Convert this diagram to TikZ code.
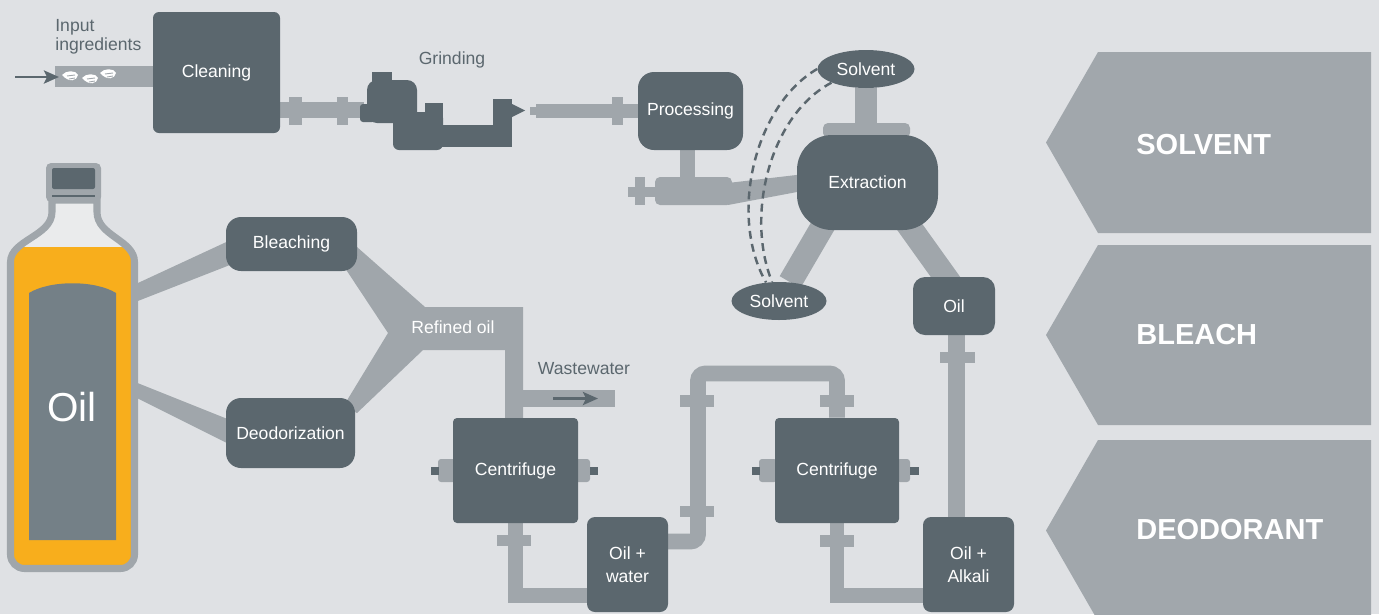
\documentclass[tikz,border=0pt]{standalone}
\usepackage{fontspec}
\setmainfont{Liberation Sans}
\usetikzlibrary{shapes.geometric, arrows.meta, positioning, calc}
\definecolor{paper}{RGB}{223,225,228}
\definecolor{steel}{RGB}{91,103,110}
\definecolor{pipegrey}{RGB}{160,166,171}
\definecolor{chevgrey}{RGB}{161,167,172}
\definecolor{amber}{RGB}{248,174,28}
\definecolor{slate}{RGB}{116,128,135}
\definecolor{neck}{RGB}{234,235,236}
\pgfdeclarelayer{back}
\pgfdeclarelayer{pipes}
\pgfsetlayers{back,pipes,main}

\begin{document}
\begin{tikzpicture}[x=0.2mm, y=-0.2mm,
  box/.style={rectangle, rounded corners=1.2mm, fill=steel, text=white, inner sep=0pt, align=center, font=\fontsize{10}{13}\selectfont},
  tank/.style={ellipse, fill=steel, text=white, inner sep=0pt, font=\fontsize{10}{12}\selectfont},
  note/.style={text=steel, inner sep=0pt, font=\fontsize{10}{10.8}\selectfont},
  tube/.style={draw=pipegrey, line width=9pt},
  flange/.style={fill=pipegrey},
  seed/.style={fill=white},
  chev/.style={fill=chevgrey},
  chevtext/.style={text=white, anchor=west, inner sep=0pt, font=\bfseries\fontsize{16.5}{18}\selectfont},
  arrow/.style={-{Stealth[length=3mm, width=2.6mm, inset=0.6mm]}, draw=steel, line width=1.6pt},
  dashline/.style={draw=steel, line width=1.4pt, dash pattern=on 4.5pt off 3pt}
]
  \useasboundingbox (0,0) rectangle (1379,614);
  \begin{pgfonlayer}{back}
    \fill[paper] (0,0) rectangle (1379,614);
  \end{pgfonlayer}

  \node[box, minimum width=25.4mm, minimum height=24.2mm] (cleaning) at (216.5,72.5) {Cleaning};
  \node[box, rounded corners=3.2mm, minimum width=21mm, minimum height=15.6mm] (processing) at (690.5,111) {Processing};
  \node[box, rounded corners=7mm, minimum width=28.2mm, minimum height=19mm] (extraction) at (867.5,182.5) {Extraction};
  \node[tank, minimum width=19.4mm, minimum height=7.6mm] (solventtop) at (866,69) {Solvent};
  \node[tank, minimum width=19mm, minimum height=7.6mm] (solventbot) at (779,301) {Solvent};
  \node[box, rounded corners=2.4mm, minimum width=16.4mm, minimum height=11.6mm] (oil) at (954,306) {Oil};
  \node[box, rounded corners=3mm, minimum width=26.2mm, minimum height=10.8mm] (bleaching) at (291.5,244) {Bleaching};
  \node[box, rounded corners=3mm, minimum width=25.8mm, minimum height=14mm] (deodor) at (290.5,433) {Deodorization};
  \node[box, rounded corners=0.8mm, minimum width=25mm, minimum height=21mm] (centrifugeA) at (515.5,470.5) {Centrifuge};
  \node[box, rounded corners=0.8mm, minimum width=24.8mm, minimum height=21mm] (centrifugeB) at (837,470.5) {Centrifuge};
  \node[box, rounded corners=1.6mm, minimum width=16.2mm, minimum height=19mm] (oilwater) at (627.5,564.5) {Oil +\\water};
  \node[box, rounded corners=1.6mm, minimum width=18.2mm, minimum height=19mm] (oilalkali) at (968.5,564.5) {Oil +\\Alkali};

  \node[note, align=left, anchor=north west] (inputlbl) at (55,19) {Input\\ingredients};
  \node[note] (grindlbl) at (452,60) {Grinding};
  \node[note] (wastelbl) at (584,369) {Wastewater};
  \node[text=white, inner sep=0pt, font=\fontsize{10}{12}\selectfont] (refined) at (453,327) {Refined oil};

  \coordinate (feed) at (15,77);
  \coordinate (inlet) at (59,77);
  \coordinate (inpipe) at (55,76.5);
  \coordinate (grindin) at (364,110);
  \coordinate (grindout) at (530,111);
  \coordinate (exsw) at (831,212);
  \coordinate (exse) at (899,212);
  \coordinate (oilin) at (962,300);
  \coordinate (wastein) at (553,398.5);
  \coordinate (wasteout) at (598,398.5);
  \coordinate (wasteend) at (615,398.5);
  \coordinate (cAbend) at (515.5,595.5);
  \coordinate (cBbend) at (837,595.5);
  \coordinate (owout) at (660,541.5);
  \coordinate (loopL) at (698,373.5);
  \coordinate (oaup) at (956.5,520);

  \begin{pgfonlayer}{pipes}
    \draw[tube, line width=11.9pt] (inpipe) -- (inpipe -| cleaning.west);
    \fill[seed, shift={(70,77)}] (-8,-2) .. controls (-4,-7) and (6,-7) .. (8,-2) .. controls (7,4) and (-1,6) .. cycle;
    \fill[seed, shift={(90,80)}] (-8,-2) .. controls (-4,-7) and (6,-7) .. (8,-2) .. controls (7,4) and (-1,6) .. cycle;
    \fill[seed, shift={(108,75)}] (-8,-2) .. controls (-4,-7) and (6,-7) .. (8,-2) .. controls (7,4) and (-1,6) .. cycle;
    \draw[pipegrey, line width=0.5pt, shift={(70,77)}] (-3,-1) -- (5,-2) (-1,2) -- (5,1);
    \draw[pipegrey, line width=0.5pt, shift={(90,80)}] (-3,-1) -- (5,-2) (-1,2) -- (5,1);
    \draw[pipegrey, line width=0.5pt, shift={(108,75)}] (-3,-1) -- (5,-2) (-1,2) -- (5,1);

    \draw[tube] (grindin -| cleaning.east) -- (grindin);
    \fill[flange] (289,97) rectangle (302,125);
    \fill[flange] (337,97) rectangle (348,125);
    \draw[tube, line width=5pt] (grindout) -- ++(8,0);
    \draw[tube, line width=8.5pt] ($(grindout)+(6,0)$) -- (processing.west);
    \fill[flange] (612,97) rectangle (623,125);

    \draw[tube, line width=8.5pt] (processing.south) ++(-3,0) -- ++(0,30);
    \fill[pipegrey, rounded corners=1mm] (655,177) rectangle (732,205);
    \fill[flange] (635,177) rectangle (645,205);
    \fill[flange] (628,187) rectangle (655,197);
    \fill[pipegrey] (728,183) -- (805,174) -- (805,190.5) -- (728,205) -- cycle;

    \draw[tube, line width=13pt] (solventtop) -- (solventtop |- extraction.north);
    \fill[pipegrey, rounded corners=1mm] (823,123) rectangle (910,138);
    \draw[tube, line width=13.6pt] (exsw) -- (solventbot);
    \draw[tube, line width=13.6pt] (exse) -- (oilin);

    \draw[dashline] (solventtop.west) .. controls (755,105) and (728,215) .. (solventbot.125);
    \draw[dashline] (solventtop.south west) .. controls (770,115) and (745,215) .. (solventbot.110);

    \fill[pipegrey] (125,289) -- (235,238) -- (235,263) -- (125,306) -- cycle;
    \fill[pipegrey] (125,378) -- (235,422) -- (235,447) -- (125,392) -- cycle;
    \fill[pipegrey] (357,247) -- (425,307) -- (523,307) -- (523,418) -- (505,418) -- (505,350) -- (423,350) -- (357,413) -- (343,407) -- (388,333) -- (343,265) -- cycle;
    \draw[tube, line width=9.6pt] (514,398.5) -- (wasteend);

    \draw[tube, line width=8.5pt] (centrifugeA.south) -- (cAbend) -- (cAbend -| oilwater.center);
    \fill[flange] (497,535) rectangle (531,546);
    \draw[tube, rounded corners=1.5mm] (owout) -| (loopL) -| (centrifugeB.north);
    \fill[flange] (680,395) rectangle (714,407);
    \fill[flange] (680,506) rectangle (714,517);
    \fill[flange] (820,395) rectangle (854,407);
    \draw[tube, line width=8.5pt] (centrifugeB.south) -- (cBbend) -- (cBbend -| oilalkali.center);
    \fill[flange] (820,535) rectangle (854,547);
    \draw[tube, line width=9.6pt] (oaup) -- (oaup |- oil.center);
    \fill[flange] (940,352) rectangle (975,363);

    \fill[pipegrey, rounded corners=0.6mm] (438,459) rectangle (456,482);
    \fill[steel] (431,467) rectangle (439,475);
    \fill[pipegrey, rounded corners=0.6mm] (575,459) rectangle (590,482);
    \fill[steel] (590,467) rectangle (598,475);
    \fill[pipegrey, rounded corners=0.6mm] (759,459) rectangle (777,482);
    \fill[steel] (752,467) rectangle (760,475);
    \fill[pipegrey, rounded corners=0.6mm] (897,459) rectangle (910,482);
    \fill[steel] (910,467) rectangle (919,475);
  \end{pgfonlayer}

  \draw[arrow] (feed) -- (inlet);
  \draw[arrow] (wastein) -- (wasteout);

  \fill[steel] (372,72) rectangle (392,82);
  \fill[steel, rounded corners=2mm] (367,80) rectangle (417,123);
  \fill[steel, rounded corners=0.6mm] (360,104) rectangle (375,122);
  \fill[steel, rounded corners=1.2mm] (393,112) rectangle (443,150);
  \fill[steel] (425,103) rectangle (443,125);
  \fill[steel] (440,125) rectangle (512,147);
  \fill[steel] (493,99) rectangle (512,147);
  \fill[steel] (512,104) -- (525,110.5) -- (512,117) -- cycle;

  \draw[pipegrey, line width=4pt, fill=neck, path picture={\fill[amber] (0,247) rectangle (150,580);}]
    (10.5,300) -- (10.5,262) .. controls (10.5,240) and (52,236) .. (52,212) -- (52,200) -- (97,200) -- (97,212) .. controls (97,236) and (134.5,240) .. (134.5,262) -- (134.5,300) [rounded corners=2.8mm] -- (134.5,568.5) -- (10.5,568.5) -- (10.5,300);
  \fill[slate] (29,293) .. controls (50,280) and (95,280) .. (116,293) -- (116,540) -- (29,540) -- cycle;
  \fill[pipegrey, rounded corners=1mm] (46,163) rectangle (101,202);
  \fill[steel, rounded corners=0.4mm] (52,168) rectangle (95,189);
  \draw[steel, line width=0.7pt] (52,196) -- (95,196);
  \node[text=white, inner sep=0pt, font=\fontsize{23}{26}\selectfont] (bottleoil) at (72,407) {Oil};

  \fill[chev] (1046,142.5) -- (1098,52) -- (1371,52) -- (1371,233) -- (1098,233) -- cycle;
  \node[chevtext] (solventlbl) at (1136,145) {SOLVENT};
  \fill[chev] (1046,335) -- (1098,245) -- (1371,245) -- (1371,425) -- (1098,425) -- cycle;
  \node[chevtext] (bleachlbl) at (1136,335) {BLEACH};
  \fill[chev] (1046,530.5) -- (1098,440) -- (1371,440) -- (1371,621) -- (1098,621) -- cycle;
  \node[chevtext] (deodorlbl) at (1136,530) {DEODORANT};
\end{tikzpicture}
\end{document}
